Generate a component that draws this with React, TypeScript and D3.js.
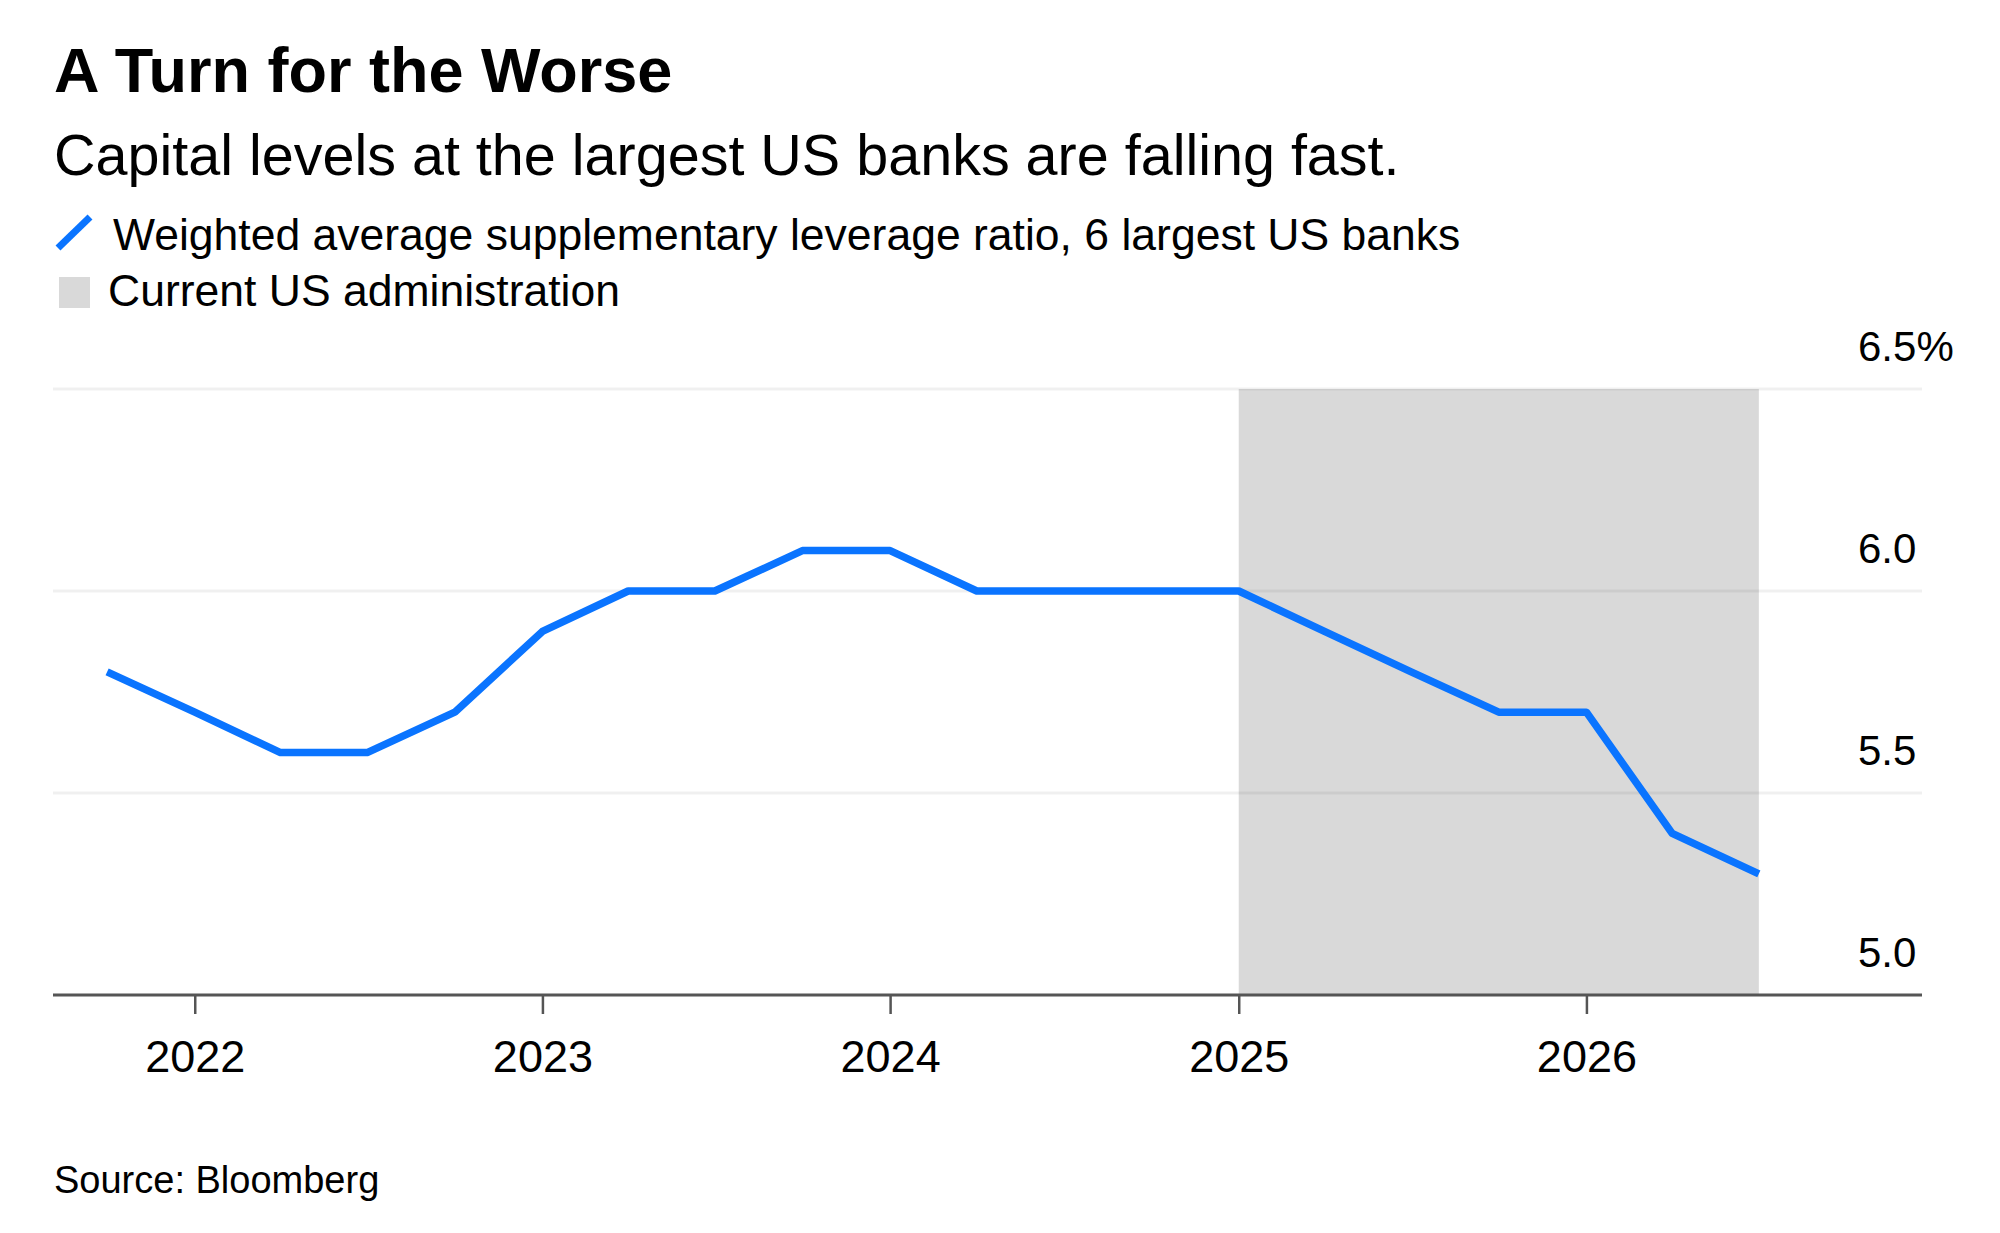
import React, {useEffect, useRef} from "react";
import * as d3 from "d3";

// quarterly observations, weighted average SLR of the 6 largest US banks (%)
const dates: string[] = [
    "2021-10-01", "2022-01-01", "2022-04-01", "2022-07-01", "2022-10-01",
    "2023-01-01", "2023-04-01", "2023-07-01", "2023-10-01",
    "2024-01-01", "2024-04-01", "2024-07-01", "2024-10-01",
    "2025-01-01", "2025-04-01", "2025-07-01", "2025-10-01",
    "2026-01-01", "2026-04-01", "2026-07-01"
];
const ratios: number[] = [
    5.8, 5.7, 5.6, 5.6, 5.7,
    5.9, 6.0, 6.0, 6.1,
    6.1, 6.0, 6.0, 6.0,
    6.0, 5.9, 5.8, 5.7,
    5.7, 5.4, 5.3
];
const shadeRange: string[] = ["2025-01-01", "2026-07-01"];
const yTicks: number[] = [5.0, 5.5, 6.0, 6.5];
const xTicks: string[] = ["2022-01-01", "2023-01-01", "2024-01-01", "2025-01-01", "2026-01-01"];

const title = "A Turn for the Worse";
const subtitle = "Capital levels at the largest US banks are falling fast.";
const seriesLabel = "Weighted average supplementary leverage ratio, 6 largest US banks";
const shadeLabel = "Current US administration";
const source = "Source: Bloomberg";

const FONT = "'Liberation Sans', Arial, Helvetica, sans-serif";
const BLUE = "#0a74ff";
const SHADE = "#d9d9d9";

interface Point {
    date: Date;
    value: number;
}

const App: React.FC = () => {
    const svgRef = useRef<SVGSVGElement>(null);
    const width = 2000;
    const height = 1233;
    const plot = {left: 53, right: 1922, top: 389, bottom: 995};

    useEffect(() => {
        document.body.style.margin = "0";
        const parse = d3.timeParse("%Y-%m-%d");
        const data: Point[] = dates.map((d, i) => ({date: parse(d)!, value: ratios[i]}));

        const svg = d3.select(svgRef.current);
        svg.selectAll("*").remove();
        svg.style("font-family", FONT);

        const xScale = d3.scaleTime()
            .domain([new Date(2021, 7, 1), new Date(2026, 11, 13)])
            .range([49, 1916]);

        const yScale = d3.scaleLinear()
            .domain([5.0, 6.5])
            .range([plot.bottom, plot.top]);

        // header
        svg.append("text")
            .attr("x", 54).attr("y", 92)
            .attr("font-size", 63).attr("font-weight", "bold")
            .attr("fill", "#000")
            .text(title);

        svg.append("text")
            .attr("x", 54).attr("y", 175)
            .attr("font-size", 57.5)
            .attr("fill", "#000")
            .text(subtitle);

        // legend
        svg.append("line")
            .attr("x1", 58).attr("y1", 248)
            .attr("x2", 90).attr("y2", 217)
            .attr("stroke", BLUE).attr("stroke-width", 7);
        svg.append("text")
            .attr("x", 113).attr("y", 250)
            .attr("font-size", 44.5)
            .text(seriesLabel);

        svg.append("rect")
            .attr("x", 59).attr("y", 277)
            .attr("width", 31).attr("height", 31)
            .attr("fill", SHADE);
        svg.append("text")
            .attr("x", 108).attr("y", 306)
            .attr("font-size", 44.5)
            .text(shadeLabel);

        // shaded period
        svg.append("rect")
            .attr("x", xScale(parse(shadeRange[0])!))
            .attr("y", plot.top)
            .attr("width", xScale(parse(shadeRange[1])!) - xScale(parse(shadeRange[0])!))
            .attr("height", plot.bottom - plot.top)
            .attr("fill", SHADE);

        // gridlines + y labels
        const grid = svg.append("g");
        yTicks.filter(t => t > 5.0).forEach(t => {
            grid.append("line")
                .attr("x1", plot.left).attr("x2", plot.right)
                .attr("y1", yScale(t)).attr("y2", yScale(t))
                .attr("stroke", "#000").attr("stroke-opacity", 0.06)
                .attr("stroke-width", 3);
        });
        yTicks.forEach(t => {
            grid.append("text")
                .attr("x", 1858)
                .attr("y", yScale(t) - 28)
                .attr("font-size", 42)
                .text(t === 6.5 ? d3.format(".1f")(t) + "%" : d3.format(".1f")(t));
        });

        // x axis
        const axis = svg.append("g")
            .attr("transform", `translate(0,${plot.bottom})`)
            .call(d3.axisBottom(xScale)
                .tickValues(xTicks.map(d => parse(d)!))
                .tickSize(19)
                .tickSizeOuter(0)
                .tickPadding(26)
                .tickFormat(d => d3.timeFormat("%Y")(d as Date)));
        axis.select(".domain").remove();
        axis.append("line")
            .attr("x1", plot.left).attr("x2", plot.right)
            .attr("y1", 0).attr("y2", 0)
            .attr("stroke", "#555").attr("stroke-width", 3);
        axis.selectAll(".tick line")
            .attr("stroke", "#555").attr("stroke-width", 2.5);
        axis.selectAll(".tick text")
            .attr("font-size", 45)
            .attr("font-family", FONT)
            .attr("fill", "#000");

        // series
        svg.append("path")
            .datum(data)
            .attr("fill", "none")
            .attr("stroke", BLUE)
            .attr("stroke-width", 7.5)
            .attr("stroke-linejoin", "round")
            .attr("d", d3.line<Point>()
                .x(d => xScale(d.date))
                .y(d => yScale(d.value))
            );

        // footer
        svg.append("text")
            .attr("x", 54).attr("y", 1193)
            .attr("font-size", 38)
            .text(source);
    }, []);

    return <svg ref={svgRef} width={width} height={height} style={{display: "block", background: "#fff"}}></svg>;
};

export default App;
